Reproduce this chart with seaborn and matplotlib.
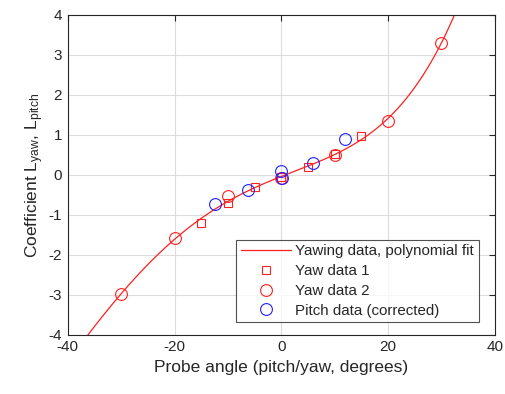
import numpy as np
import pandas as pd
import matplotlib
matplotlib.use("Agg")
import matplotlib.pyplot as plt
import seaborn as sns

# ---- data ----
yaw1_x = [-15, -10, -5, 0, 5, 10, 15]
yaw1_y = [-1.19, -0.69, -0.31, -0.05, 0.19, 0.53, 0.97]

yaw2_x = [-30, -20, -10, 0, 10, 20, 30]
yaw2_y = [-2.97, -1.58, -0.52, -0.07, 0.49, 1.36, 3.31]

pitch_x = [-12.5, -6.3, 0, 0.2, 6.0, 12.0]
pitch_y = [-0.72, -0.37, 0.11, -0.08, 0.29, 0.89]

fit_degree = 5
x_ticks = [-40, -20, 0, 20, 40]
y_ticks = [-4, -3, -2, -1, 0, 1, 2, 3, 4]

# ---- polynomial fit of the yawing data ----
fit_x_data = np.array(yaw1_x + yaw2_x, dtype=float)
fit_y_data = np.array(yaw1_y + yaw2_y, dtype=float)
coef = np.polyfit(fit_x_data, fit_y_data, fit_degree)
xs = np.linspace(-40, 40, 400)
fit_df = pd.DataFrame({"x": xs, "y": np.polyval(coef, xs)})

sns.set_style("white")
plt.rcParams["font.family"] = ["Liberation Sans", "DejaVu Sans"]
plt.rcParams["mathtext.fontset"] = "custom"
plt.rcParams["mathtext.rm"] = "Liberation Sans"
plt.rcParams["mathtext.it"] = "Liberation Sans"
plt.rcParams["axes.unicode_minus"] = False

RED = "#ff2020"
BLUE = "#2020ff"

fig = plt.figure(figsize=(5.06, 3.94), dpi=100)
ax = fig.add_axes([0.134, 0.150, 0.844, 0.812])

sns.lineplot(data=fit_df, x="x", y="y", color=RED, linewidth=0.9,
             ax=ax, label="Yawing data, polynomial fit", sort=False)
sns.lineplot(x=yaw1_x, y=yaw1_y, linestyle="", marker="s", markersize=6,
             markerfacecolor="none", markeredgecolor=RED, markeredgewidth=0.8,
             color=RED, ax=ax, label="Yaw data 1", sort=False)
sns.lineplot(x=yaw2_x, y=yaw2_y, linestyle="", marker="o", markersize=8.5,
             markerfacecolor="none", markeredgecolor=RED, markeredgewidth=0.8,
             color=RED, ax=ax, label="Yaw data 2", sort=False)
sns.lineplot(x=pitch_x, y=pitch_y, linestyle="", marker="o", markersize=8.5,
             markerfacecolor="none", markeredgecolor=BLUE, markeredgewidth=0.8,
             color=BLUE, ax=ax, label="Pitch data (corrected)", sort=False,
             estimator=None)

ax.set_xlim(-40, 40)
ax.set_ylim(-4, 4)
ax.set_xticks(x_ticks)
ax.set_yticks(y_ticks)
ax.grid(True, color="#dcdcdc", linewidth=0.8)
ax.set_axisbelow(True)
for sp in ax.spines.values():
    sp.set_color("#262626")
    sp.set_linewidth(0.8)
ax.tick_params(direction="in", top=True, right=True, length=4, width=0.8,
               colors="#262626", labelsize=11, pad=4)
for lbl in ax.get_xticklabels() + ax.get_yticklabels():
    lbl.set_color("#262626")

ax.set_xlabel("Probe angle (pitch/yaw, degrees)", fontsize=12.5, color="#262626")
ax.set_ylabel(r"Coefficient L$_{\mathrm{yaw}}$, L$_{\mathrm{pitch}}$",
              fontsize=12.5, color="#262626", labelpad=2)

leg = ax.legend(loc="lower right", bbox_to_anchor=(0.962, 0.04), fontsize=10.9,
                frameon=True, fancybox=False, edgecolor="#262626",
                borderpad=0.3, labelspacing=0.38, handlelength=3.3,
                handletextpad=0.3, borderaxespad=0)
leg.get_frame().set_linewidth(0.8)

fig.savefig("out.png", dpi=100)
